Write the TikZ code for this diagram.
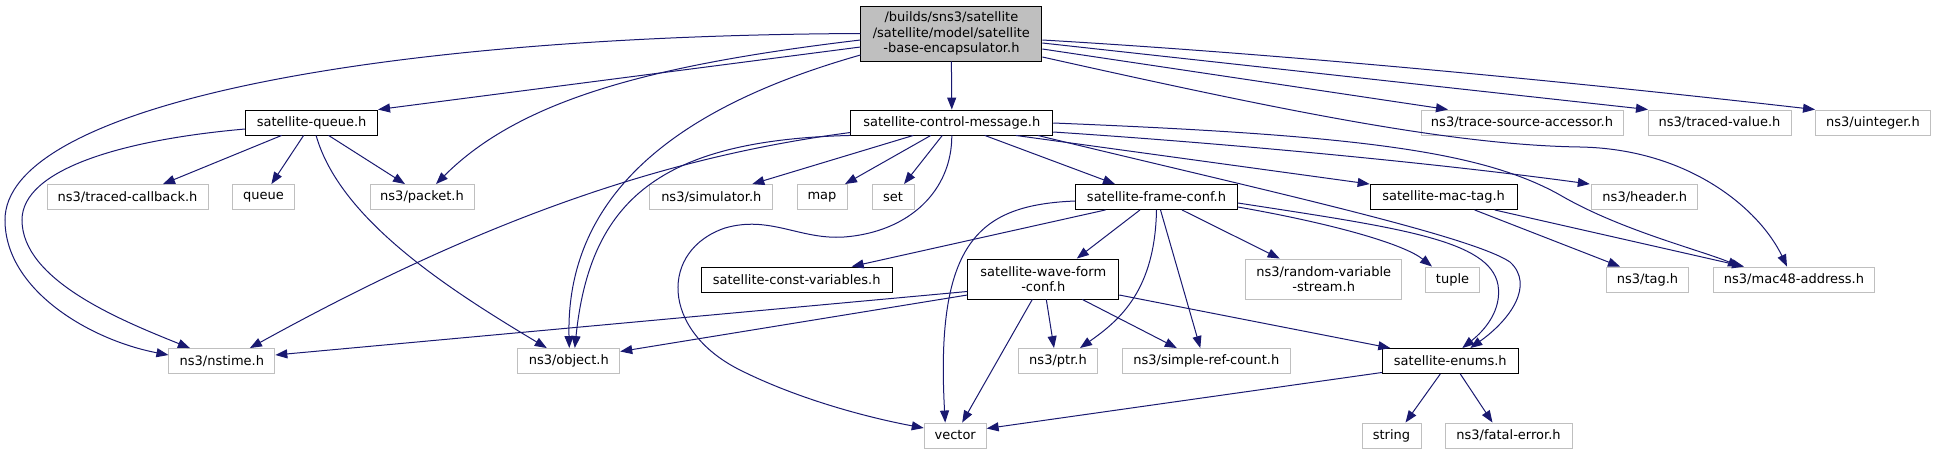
\documentclass[tikz,border=0pt]{standalone}
\usepackage{fontspec}
\setmainfont{DejaVu Sans}
\usetikzlibrary{arrows.meta}
\definecolor{edgeblue}{HTML}{191970}
\definecolor{boxgray}{HTML}{BFBFBF}

\tikzset{
  file/.style={draw=black, fill=white, line width=0.9pt, inner xsep=2pt, inner ysep=2pt,
    minimum height=25pt, align=center, font=\fontsize{13}{15.3}\selectfont},
  extfile/.style={file, draw=boxgray},
  mainfile/.style={file, fill=boxgray, minimum height=55pt},
  dep/.style={edgeblue, line width=1pt, -{Triangle[length=12pt,width=9pt]}},
}

\begin{document}
\begin{tikzpicture}[x=1pt, y=-1pt]
    \useasboundingbox (0,0) rectangle (1936,455);

    % Files
    \node[mainfile, minimum width=181pt] (main) at (951.4,33.5) {/builds/sns3/satellite\\/satellite/model/satellite\\-base-encapsulator.h};
    \node[file, minimum width=132pt] (queueh) at (311.6,122.5) {satellite-queue.h};
    \node[file, minimum width=202pt] (ctrlmsg) at (951.8,122.5) {satellite-control-message.h};
    \node[extfile, minimum width=202pt] (tracesrc) at (1522,122.5) {ns3/trace-source-accessor.h};
    \node[extfile, minimum width=143pt] (tracedval) at (1719.5,122.5) {ns3/traced-value.h};
    \node[extfile, minimum width=115pt] (uinteger) at (1873,122.5) {ns3/uinteger.h};
    \node[extfile, minimum width=161pt] (tracedcb) at (127.5,197) {ns3/traced-callback.h};
    \node[extfile, minimum width=62.6pt] (queue) at (263.4,197) {queue};
    \node[extfile, minimum width=104pt] (packet) at (422,197) {ns3/packet.h};
    \node[extfile, minimum width=123pt] (simulator) at (711.3,197) {ns3/simulator.h};
    \node[extfile, minimum width=50pt] (map) at (822,197) {map};
    \node[extfile, minimum width=42pt] (set) at (893,197) {set};
    \node[file, minimum width=162pt] (frameconf) at (1156.5,197) {satellite-frame-conf.h};
    \node[file, minimum width=147pt] (mactag) at (1443.6,197) {satellite-mac-tag.h};
    \node[extfile, minimum width=106pt] (header) at (1644.8,197) {ns3/header.h};
    \node[file, minimum width=191pt] (constvar) at (796.7,279.5) {satellite-const-variables.h};
    \node[file, minimum width=151pt, minimum height=40pt] (waveform) at (1043.3,279) {satellite-wave-form\\-conf.h};
    \node[extfile, minimum width=156pt, minimum height=40pt] (randvar) at (1323.7,279) {ns3/random-variable\\-stream.h};
    \node[extfile, minimum width=54pt] (tuple) at (1452.5,279.5) {tuple};
    \node[extfile, minimum width=82pt] (tag) at (1647.5,279.5) {ns3/tag.h};
    \node[extfile, minimum width=161pt] (mac48) at (1794,279.5) {ns3/mac48-address.h};
    \node[extfile, minimum width=106pt] (nstime) at (221.9,361) {ns3/nstime.h};
    \node[extfile, minimum width=102pt] (object) at (568.8,361) {ns3/object.h};
    \node[extfile, minimum width=78.6pt] (ptr) at (1058,361) {ns3/ptr.h};
    \node[extfile, minimum width=168pt] (refcount) at (1206.3,361) {ns3/simple-ref-count.h};
    \node[file, minimum width=136pt] (enums) at (1450.3,361) {satellite-enums.h};
    \node[extfile, minimum width=62pt] (vector) at (955.2,435.5) {vector};
    \node[extfile, minimum width=59pt] (string) at (1391.5,435.5) {string};
    \node[extfile, minimum width=127pt] (fatal) at (1508.5,435.5) {ns3/fatal-error.h};

    % Includes of the main file
    \draw[dep] (main.west) .. controls (350,36) and (5,110) .. (5,220)
        .. controls (5,290) and (90,340) .. ([yshift=6pt]nstime.west);
    \draw[dep] ([yshift=-13.5pt]main.west) -- (queueh.north east);
    \draw[dep] ([yshift=-6.5pt]main.west) .. controls (650,65) and (520,100) .. ([xshift=14pt]packet.north);
    \draw[dep] ([yshift=-21.5pt]main.west) .. controls (720,95) and (565,170) .. ([xshift=0.5pt]object.north);
    \draw[dep] (main.south) -- (ctrlmsg.north);
    \draw[dep] ([yshift=-15.5pt]main.east) -- ([xshift=-74pt]tracesrc.north);
    \draw[dep] ([yshift=-9.5pt]main.east) -- ([xshift=-71.5pt]tracedval.north);
    \draw[dep] ([yshift=-6.5pt]main.east) .. controls (1300,55) and (1600,85) .. (uinteger.north west);
    \draw[dep] ([yshift=-23.5pt]main.east) .. controls (1280,110) and (1450,145) .. (1580,147)
        .. controls (1690,149) and (1760,210) .. ([xshift=-7pt]mac48.north);

    % satellite-queue.h
    \draw[dep] ([yshift=-6.5pt]queueh.west) .. controls (120,140) and (22,170) .. (22,220)
        .. controls (22,280) and (120,320) .. ([xshift=-32pt]nstime.north);
    \draw[dep] ([xshift=-30pt]queueh.south) -- ([xshift=35.5pt]tracedcb.north);
    \draw[dep] ([xshift=-8pt]queueh.south) -- ([xshift=8pt]queue.north);
    \draw[dep] ([xshift=17pt]queueh.south) -- ([xshift=-17pt]packet.north);
    \draw[dep] ([xshift=4.5pt]queueh.south) .. controls (340,220) and (450,290) .. ([xshift=-22pt]object.north);

    % satellite-control-message.h
    \draw[dep] ([yshift=-10pt]ctrlmsg.west) .. controls (680,155) and (500,210) .. ([xshift=28pt]nstime.north);
    \draw[dep] (ctrlmsg.south west) .. controls (660,140) and (590,200) .. ([xshift=6pt]object.north);
    \draw[dep] ([xshift=-38.5pt]ctrlmsg.south) -- ([xshift=41pt]simulator.north);
    \draw[dep] ([xshift=-21pt]ctrlmsg.south) -- ([xshift=23pt]map.north);
    \draw[dep] ([xshift=-9.5pt]ctrlmsg.south) -- ([xshift=11pt]set.north);
    \draw[dep] (ctrlmsg.south) .. controls (952,190) and (910,232) .. (844,237)
        .. controls (800,240) and (770,215) .. (725,228)
        .. controls (660,250) and (660,330) .. (740,370)
        .. controls (800,400) and (870,418) .. ([yshift=7.5pt]vector.west);
    \draw[dep] ([xshift=33pt]ctrlmsg.south) -- ([xshift=-41.5pt]frameconf.north);
    \draw[dep] ([xshift=64pt]ctrlmsg.south) -- (mactag.north west);
    \draw[dep] ([xshift=86pt]ctrlmsg.south) .. controls (1250,187) and (1470,235) .. (1510,262)
        .. controls (1535,285) and (1510,320) .. ([xshift=20pt]enums.north);
    \draw[dep] ([yshift=-9.5pt]ctrlmsg.east) .. controls (1250,145) and (1450,165) .. ([xshift=-55pt]header.north);
    \draw[dep] ([yshift=-0.5pt]ctrlmsg.east) .. controls (1350,135) and (1480,150) .. (1560,195)
        .. controls (1620,230) and (1700,250) .. ([xshift=-54pt]mac48.north);

    % satellite-mac-tag.h
    \draw[dep] ([xshift=31pt]mactag.south) -- ([xshift=-27.5pt]tag.north);
    \draw[dep] ([xshift=51pt]mactag.south) -- ([xshift=-50pt]mac48.north);

    % satellite-frame-conf.h
    \draw[dep] ([xshift=-51pt]frameconf.south) -- ([xshift=55pt]constvar.north);
    \draw[dep] ([xshift=-16.5pt]frameconf.south) -- ([xshift=33.5pt]waveform.north);
    \draw[dep] ([yshift=-4pt]frameconf.west) .. controls (980,205) and (935,240) .. ([xshift=-10pt]vector.north);
    \draw[dep] (frameconf.south) .. controls (1155,290) and (1120,320) .. ([xshift=22pt]ptr.north);
    \draw[dep] ([xshift=4pt]frameconf.south) -- ([xshift=-6pt]refcount.north);
    \draw[dep] ([xshift=25.5pt]frameconf.south) -- ([xshift=-44pt]randvar.north);
    \draw[dep] ([yshift=-10pt]frameconf.east) .. controls (1340,225) and (1405,245) .. ([xshift=-20.5pt]tuple.north);
    \draw[dep] ([yshift=-6pt]frameconf.east) .. controls (1400,228) and (1490,240) .. (1498,285)
        .. controls (1502,310) and (1485,330) .. ([xshift=12pt]enums.north);

    % satellite-wave-form-conf.h
    \draw[dep] ([yshift=-12.5pt]waveform.west) -- ([yshift=6pt]nstime.east);
    \draw[dep] ([yshift=-16pt]waveform.west) -- ([yshift=9.5pt]object.east);
    \draw[dep] ([xshift=-11pt]waveform.south) -- ([xshift=7pt]vector.north);
    \draw[dep] ([xshift=3pt]waveform.south) -- ([xshift=-4pt]ptr.north);
    \draw[dep] ([xshift=39pt]waveform.south) -- ([xshift=-29.5pt]refcount.north);
    \draw[dep] ([yshift=-16pt]waveform.east) -- ([xshift=-60pt]enums.north);

    % satellite-enums.h
    \draw[dep] ([yshift=-11.5pt]enums.west) -- ([yshift=7pt]vector.east);
    \draw[dep] ([xshift=-10pt]enums.south) -- ([xshift=14pt]string.north);
    \draw[dep] ([xshift=10pt]enums.south) -- ([xshift=-16pt]fatal.north);
\end{tikzpicture}
\end{document}
